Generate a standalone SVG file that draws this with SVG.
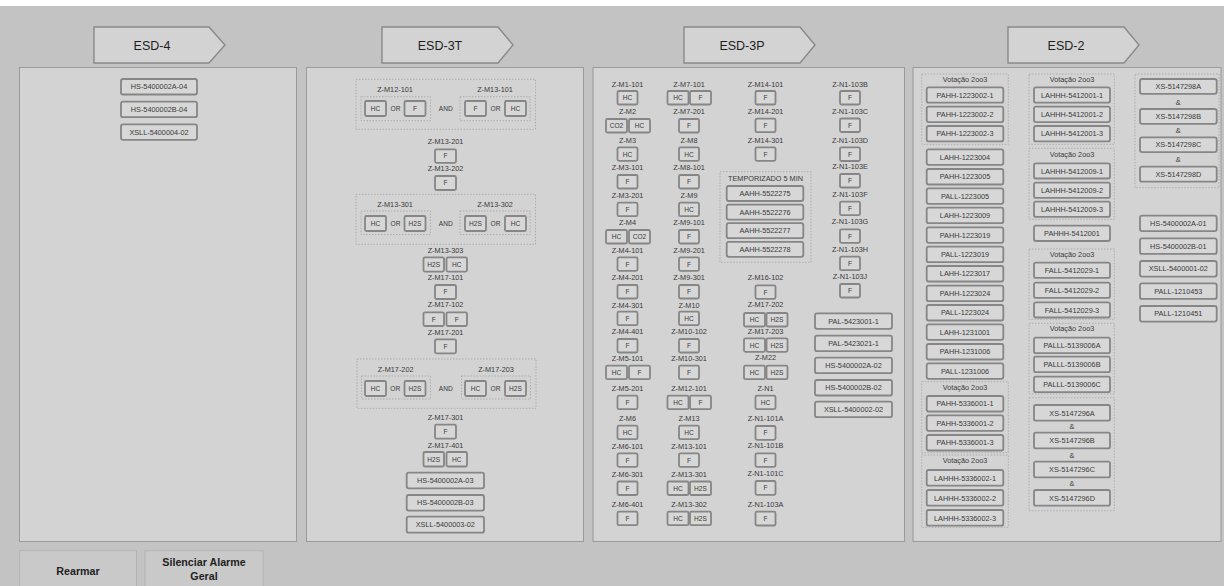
<svg xmlns="http://www.w3.org/2000/svg" width="1224" height="586" viewBox="0 0 1224 586">
<style>
.bg{fill:#c3c3c3}
.pnl{fill:#d3d3d3;stroke:#9a9a9a;stroke-width:1}
.hdr{fill:#d3d3d3;stroke:#8a8a8a;stroke-width:1.4}
.ht{font-family:"Liberation Sans",Arial,sans-serif;font-size:12.5px;fill:#1e1e1e;text-anchor:middle}
.b{fill:#d7d7d7;stroke:#868686;stroke-width:1.8}
.t{font-family:"Liberation Sans",Arial,sans-serif;font-size:7.3px;fill:#3a3a3a;text-anchor:middle}
.s{font-family:"Liberation Sans",Arial,sans-serif;font-size:6.6px;fill:#3a3a3a;text-anchor:middle}
.d{fill:none;stroke:#a4a4a4;stroke-width:0.8;stroke-dasharray:1.5 1.5}
.btn{fill:#c9c9c9;stroke:#b4b4b4;stroke-width:1}
.bt{font-family:"Liberation Sans",Arial,sans-serif;font-size:10.7px;font-weight:bold;fill:#222;text-anchor:middle}
</style>
<rect class="bg" x="0" y="0" width="1224" height="586"/>
<rect x="0" y="0" width="1224" height="6" fill="#ffffff"/>

<!-- headers -->
<g id="hdr-esd4"><polygon class="hdr" points="94,27 209,27 225,45 209,63 94,63"/><text class="ht" x="152" y="49.5">ESD-4</text></g>
<g id="hdr-esd3t"><polygon class="hdr" points="382,27 498,27 513,45 498,63 382,63"/><text class="ht" x="440" y="49.5">ESD-3T</text></g>
<g id="hdr-esd3p"><polygon class="hdr" points="684,27 800,27 815,45 800,63 684,63"/><text class="ht" x="742" y="49.5">ESD-3P</text></g>
<g id="hdr-esd2"><polygon class="hdr" points="1008,27 1124,27 1139,45 1124,63 1008,63"/><text class="ht" x="1066" y="49.5">ESD-2</text></g>

<!-- panels -->
<rect class="pnl" x="19.5" y="67.5" width="277" height="474"/>
<rect class="pnl" x="306.5" y="67.5" width="277" height="474"/>
<rect class="pnl" x="593" y="67.5" width="311.5" height="474"/>
<rect class="pnl" x="913" y="67.5" width="308" height="474"/>

<g id="connectors"></g>

<!-- ESD-4 -->
<g id="esd4-hs-a"><rect class="b" x="121" y="79" width="76" height="15.5" rx="2"/><text class="t" x="159" y="89.4">HS-5400002A-04</text></g>
<g id="esd4-hs-b"><rect class="b" x="121" y="101.7" width="76" height="15.5" rx="2"/><text class="t" x="159" y="112.1">HS-5400002B-04</text></g>
<g id="esd4-xsll"><rect class="b" x="121" y="124.3" width="76" height="15.5" rx="2"/><text class="t" x="159" y="134.7">XSLL-5400004-02</text></g>

<!-- ESD-3T -->
<g id="t-g1">
<rect class="d" x="356" y="79.3" width="179.5" height="50"/>
<text class="t" x="395" y="91.9">Z-M12-101</text><text class="t" x="495" y="91.9">Z-M13-101</text>
<rect class="d" x="361" y="96.7" width="69.5" height="24"/>
<rect class="b" x="365" y="101" width="21" height="15" rx="1.5"/><text class="s" x="375.5" y="110.9">HC</text>
<text class="s" x="395.5" y="110.9">OR</text>
<rect class="b" x="404.5" y="101" width="21" height="15" rx="1.5"/><text class="s" x="415" y="110.9">F</text>
<text class="s" x="445.7" y="110.9">AND</text>
<rect class="d" x="460" y="96.7" width="70" height="24"/>
<rect class="b" x="465" y="101" width="21" height="15" rx="1.5"/><text class="s" x="475.5" y="110.9">F</text>
<text class="s" x="495.5" y="110.9">OR</text>
<rect class="b" x="505" y="101" width="21" height="15" rx="1.5"/><text class="s" x="515.5" y="110.9">HC</text>
</g>
<g id="t-zm13-201"><text class="t" x="445.5" y="143.6">Z-M13-201</text><rect class="b" x="435" y="149.3" width="21" height="13.5" rx="1.5"/><text class="s" x="445.5" y="158.4">F</text></g>
<g id="t-zm13-202"><text class="t" x="445.5" y="170.9">Z-M13-202</text><rect class="b" x="435" y="176" width="21" height="14" rx="1.5"/><text class="s" x="445.5" y="185.3">F</text></g>
<g id="t-g2">
<rect class="d" x="356" y="194.3" width="179.5" height="50"/>
<text class="t" x="395" y="206.9">Z-M13-301</text><text class="t" x="495" y="206.9">Z-M13-302</text>
<rect class="d" x="361" y="211" width="69.5" height="23.5"/>
<rect class="b" x="365" y="216" width="21" height="15" rx="1.5"/><text class="s" x="375.5" y="225.9">HC</text>
<text class="s" x="395.5" y="225.9">OR</text>
<rect class="b" x="404.5" y="216" width="21" height="15" rx="1.5"/><text class="s" x="415" y="225.9">H2S</text>
<text class="s" x="445.7" y="225.9">AND</text>
<rect class="d" x="460" y="211" width="70" height="23.5"/>
<rect class="b" x="465" y="216" width="21" height="15" rx="1.5"/><text class="s" x="475.5" y="225.9">H2S</text>
<text class="s" x="495.5" y="225.9">OR</text>
<rect class="b" x="505" y="216" width="21" height="15" rx="1.5"/><text class="s" x="515.5" y="225.9">HC</text>
</g>
<g id="t-zm13-303"><text class="t" x="445.5" y="252.6">Z-M13-303</text><rect class="b" x="423.5" y="257.3" width="20.5" height="14.3" rx="1.5"/><text class="s" x="433.7" y="266.8">H2S</text><rect class="b" x="446.5" y="257.3" width="20.5" height="14.3" rx="1.5"/><text class="s" x="456.7" y="266.8">HC</text></g>
<g id="t-zm17-101"><text class="t" x="445.5" y="280.3">Z-M17-101</text><rect class="b" x="435" y="285" width="21" height="14" rx="1.5"/><text class="s" x="445.5" y="294.4">F</text></g>
<g id="t-zm17-102"><text class="t" x="445.5" y="306.9">Z-M17-102</text><rect class="b" x="423.5" y="312.3" width="20.5" height="13.7" rx="1.5"/><text class="s" x="433.7" y="321.6">F</text><rect class="b" x="446.5" y="312.3" width="20.5" height="13.7" rx="1.5"/><text class="s" x="456.7" y="321.6">F</text></g>
<g id="t-zm17-201"><text class="t" x="445.5" y="334.9">Z-M17-201</text><rect class="b" x="435" y="339.3" width="21" height="14" rx="1.5"/><text class="s" x="445.5" y="348.7">F</text></g>
<g id="t-g3">
<rect class="d" x="357" y="359" width="179" height="49.3"/>
<text class="t" x="395.7" y="371.9">Z-M17-202</text><text class="t" x="496" y="371.9">Z-M17-203</text>
<rect class="d" x="361.5" y="376" width="69" height="23"/>
<rect class="b" x="365" y="381" width="21" height="15" rx="1.5"/><text class="s" x="375.5" y="390.9">HC</text>
<text class="s" x="395.3" y="390.9">OR</text>
<rect class="b" x="404.5" y="381" width="21" height="15" rx="1.5"/><text class="s" x="415" y="390.9">H2S</text>
<text class="s" x="445.7" y="390.9">AND</text>
<rect class="d" x="461.5" y="376" width="69" height="23"/>
<rect class="b" x="465" y="381" width="21" height="15" rx="1.5"/><text class="s" x="475.5" y="390.9">HC</text>
<text class="s" x="495.5" y="390.9">OR</text>
<rect class="b" x="505" y="381" width="21" height="15" rx="1.5"/><text class="s" x="515.5" y="390.9">H2S</text>
</g>
<g id="t-zm17-301"><text class="t" x="445.5" y="419.9">Z-M17-301</text><rect class="b" x="435" y="424.7" width="21" height="14" rx="1.5"/><text class="s" x="445.5" y="434.1">F</text></g>
<g id="t-zm17-401"><text class="t" x="445.5" y="447.6">Z-M17-401</text><rect class="b" x="423.5" y="452" width="20.5" height="14.5" rx="1.5"/><text class="s" x="433.7" y="461.6">H2S</text><rect class="b" x="446.5" y="452" width="20.5" height="14.5" rx="1.5"/><text class="s" x="456.7" y="461.6">HC</text></g>
<g id="t-hs-a"><rect class="b" x="406.7" y="472.7" width="77.3" height="15.6" rx="2"/><text class="t" x="445.3" y="483.1">HS-5400002A-03</text></g>
<g id="t-hs-b"><rect class="b" x="406.7" y="495" width="77.3" height="15.6" rx="2"/><text class="t" x="445.3" y="505.4">HS-5400002B-03</text></g>
<g id="t-xsll"><rect class="b" x="406.7" y="516.7" width="77.3" height="16" rx="2"/><text class="t" x="445.3" y="527.3">XSLL-5400003-02</text></g>

<!-- ESD-3P column 1 -->
<g id="p-zm1-101"><text class="t" x="627.5" y="86.6">Z-M1-101</text><rect class="b" x="617.5" y="91" width="20" height="13.5" rx="1.5"/><text class="s" x="627.5" y="100.3">HC</text></g>
<g id="p-zm2"><text class="t" x="627.5" y="114.3">Z-M2</text><rect class="b" x="606" y="119" width="21" height="13.5" rx="1.5"/><text class="s" x="616.5" y="128.3">CO2</text><rect class="b" x="629" y="119" width="21" height="13.5" rx="1.5"/><text class="s" x="639.5" y="128.3">HC</text></g>
<g id="p-zm3"><text class="t" x="627.5" y="142.6">Z-M3</text><rect class="b" x="617.5" y="147.3" width="20" height="13.5" rx="1.5"/><text class="s" x="627.5" y="156.6">HC</text></g>
<g id="p-zm3-101"><text class="t" x="627.5" y="169.9">Z-M3-101</text><rect class="b" x="617.5" y="175" width="20" height="13.5" rx="1.5"/><text class="s" x="627.5" y="184.3">F</text></g>
<g id="p-zm3-201"><text class="t" x="627.5" y="197.6">Z-M3-201</text><rect class="b" x="617.5" y="202.7" width="20" height="13.5" rx="1.5"/><text class="s" x="627.5" y="212">F</text></g>
<g id="p-zm4"><text class="t" x="627.5" y="225.3">Z-M4</text><rect class="b" x="606" y="230" width="21" height="13.5" rx="1.5"/><text class="s" x="616.5" y="239.3">HC</text><rect class="b" x="629" y="230" width="21" height="13.5" rx="1.5"/><text class="s" x="639.5" y="239.3">CO2</text></g>
<g id="p-zm4-101"><text class="t" x="627.5" y="252.6">Z-M4-101</text><rect class="b" x="617.5" y="257.3" width="20" height="13.5" rx="1.5"/><text class="s" x="627.5" y="266.6">F</text></g>
<g id="p-zm4-201"><text class="t" x="627.5" y="279.9">Z-M4-201</text><rect class="b" x="617.5" y="285" width="20" height="13.5" rx="1.5"/><text class="s" x="627.5" y="294.3">F</text></g>
<g id="p-zm4-301"><text class="t" x="627.5" y="307.6">Z-M4-301</text><rect class="b" x="617.5" y="311.7" width="20" height="13.5" rx="1.5"/><text class="s" x="627.5" y="321">F</text></g>
<g id="p-zm4-401"><text class="t" x="627.5" y="334.3">Z-M4-401</text><rect class="b" x="617.5" y="339" width="20" height="13.5" rx="1.5"/><text class="s" x="627.5" y="348.3">F</text></g>
<g id="p-zm5-101"><text class="t" x="627.5" y="360.9">Z-M5-101</text><rect class="b" x="606" y="365.7" width="21" height="13.5" rx="1.5"/><text class="s" x="616.5" y="375">HC</text><rect class="b" x="629" y="365.7" width="21" height="13.5" rx="1.5"/><text class="s" x="639.5" y="375">F</text></g>
<g id="p-zm5-201"><text class="t" x="627.5" y="390.9">Z-M5-201</text><rect class="b" x="617.5" y="395.7" width="20" height="13.5" rx="1.5"/><text class="s" x="627.5" y="405">F</text></g>
<g id="p-zm6"><text class="t" x="627.5" y="420.9">Z-M6</text><rect class="b" x="617.5" y="425.7" width="20" height="13.5" rx="1.5"/><text class="s" x="627.5" y="435">HC</text></g>
<g id="p-zm6-101"><text class="t" x="627.5" y="448.6">Z-M6-101</text><rect class="b" x="617.5" y="453.3" width="20" height="13.5" rx="1.5"/><text class="s" x="627.5" y="462.6">F</text></g>
<g id="p-zm6-301"><text class="t" x="627.5" y="476.6">Z-M6-301</text><rect class="b" x="617.5" y="481.5" width="20" height="13.5" rx="1.5"/><text class="s" x="627.5" y="490.8">F</text></g>
<g id="p-zm6-401"><text class="t" x="627.5" y="506.6">Z-M6-401</text><rect class="b" x="617.5" y="511.7" width="20" height="13.5" rx="1.5"/><text class="s" x="627.5" y="521">F</text></g>

<!-- ESD-3P column 2 -->
<g id="p-zm7-101"><text class="t" x="689" y="86.6">Z-M7-101</text><rect class="b" x="667.5" y="91" width="21" height="13.5" rx="1.5"/><text class="s" x="678" y="100.3">HC</text><rect class="b" x="690" y="91" width="21" height="13.5" rx="1.5"/><text class="s" x="700.5" y="100.3">F</text></g>
<g id="p-zm7-201"><text class="t" x="689" y="114.3">Z-M7-201</text><rect class="b" x="679" y="119" width="20" height="13.5" rx="1.5"/><text class="s" x="689" y="128.3">F</text></g>
<g id="p-zm8"><text class="t" x="689" y="142.6">Z-M8</text><rect class="b" x="679" y="147.3" width="20" height="13.5" rx="1.5"/><text class="s" x="689" y="156.6">HC</text></g>
<g id="p-zm8-101"><text class="t" x="689" y="169.9">Z-M8-101</text><rect class="b" x="679" y="175" width="20" height="13.5" rx="1.5"/><text class="s" x="689" y="184.3">F</text></g>
<g id="p-zm9"><text class="t" x="689" y="197.6">Z-M9</text><rect class="b" x="679" y="202.7" width="20" height="13.5" rx="1.5"/><text class="s" x="689" y="212">HC</text></g>
<g id="p-zm9-101"><text class="t" x="689" y="225.3">Z-M9-101</text><rect class="b" x="679" y="230" width="20" height="13.5" rx="1.5"/><text class="s" x="689" y="239.3">F</text></g>
<g id="p-zm9-201"><text class="t" x="689" y="252.6">Z-M9-201</text><rect class="b" x="679" y="257.3" width="20" height="13.5" rx="1.5"/><text class="s" x="689" y="266.6">F</text></g>
<g id="p-zm9-301"><text class="t" x="689" y="279.9">Z-M9-301</text><rect class="b" x="679" y="285" width="20" height="13.5" rx="1.5"/><text class="s" x="689" y="294.3">F</text></g>
<g id="p-zm10"><text class="t" x="689" y="307.6">Z-M10</text><rect class="b" x="679" y="311.7" width="20" height="13.5" rx="1.5"/><text class="s" x="689" y="321">HC</text></g>
<g id="p-zm10-102"><text class="t" x="689" y="334.3">Z-M10-102</text><rect class="b" x="679" y="339" width="20" height="13.5" rx="1.5"/><text class="s" x="689" y="348.3">F</text></g>
<g id="p-zm10-301"><text class="t" x="689" y="360.9">Z-M10-301</text><rect class="b" x="679" y="365.7" width="20" height="13.5" rx="1.5"/><text class="s" x="689" y="375">F</text></g>
<g id="p-zm12-101"><text class="t" x="689" y="390.9">Z-M12-101</text><rect class="b" x="667.5" y="395.7" width="21" height="13.5" rx="1.5"/><text class="s" x="678" y="405">HC</text><rect class="b" x="690" y="395.7" width="21" height="13.5" rx="1.5"/><text class="s" x="700.5" y="405">F</text></g>
<g id="p-zm13"><text class="t" x="689" y="420.9">Z-M13</text><rect class="b" x="679" y="425.7" width="20" height="13.5" rx="1.5"/><text class="s" x="689" y="435">HC</text></g>
<g id="p-zm13-101"><text class="t" x="689" y="448.6">Z-M13-101</text><rect class="b" x="679" y="453.3" width="20" height="13.5" rx="1.5"/><text class="s" x="689" y="462.6">F</text></g>
<g id="p-zm13-301"><text class="t" x="689" y="476.6">Z-M13-301</text><rect class="b" x="667.5" y="481.5" width="21" height="13.5" rx="1.5"/><text class="s" x="678" y="490.8">HC</text><rect class="b" x="690" y="481.5" width="21" height="13.5" rx="1.5"/><text class="s" x="700.5" y="490.8">H2S</text></g>
<g id="p-zm13-302"><text class="t" x="689" y="506.6">Z-M13-302</text><rect class="b" x="667.5" y="511.7" width="21" height="13.5" rx="1.5"/><text class="s" x="678" y="521">HC</text><rect class="b" x="690" y="511.7" width="21" height="13.5" rx="1.5"/><text class="s" x="700.5" y="521">H2S</text></g>

<!-- ESD-3P column 3 -->
<g id="p-zm14-101"><text class="t" x="765.5" y="86.6">Z-M14-101</text><rect class="b" x="755.5" y="91" width="20" height="13.5" rx="1.5"/><text class="s" x="765.5" y="100.3">F</text></g>
<g id="p-zm14-201"><text class="t" x="765.5" y="114.3">Z-M14-201</text><rect class="b" x="755.5" y="118.7" width="20" height="13.5" rx="1.5"/><text class="s" x="765.5" y="128">F</text></g>
<g id="p-zm14-301"><text class="t" x="765.5" y="142.6">Z-M14-301</text><rect class="b" x="755.5" y="147.3" width="20" height="13.5" rx="1.5"/><text class="s" x="765.5" y="156.6">F</text></g>
<g id="p-temp">
<rect class="d" x="720" y="171.7" width="91" height="90.6"/>
<text class="t" x="765.5" y="180.9">TEMPORIZADO 5 MIN</text>
<rect class="b" x="726.7" y="186" width="76.6" height="15" rx="2"/><text class="t" x="765" y="196.1">AAHH-5522275</text>
<rect class="b" x="726.7" y="204.6" width="76.6" height="15" rx="2"/><text class="t" x="765" y="214.7">AAHH-5522276</text>
<rect class="b" x="726.7" y="223.2" width="76.6" height="15" rx="2"/><text class="t" x="765" y="233.3">AAHH-5522277</text>
<rect class="b" x="726.7" y="241.8" width="76.6" height="15" rx="2"/><text class="t" x="765" y="251.9">AAHH-5522278</text>
</g>
<g id="p-zm16-102"><text class="t" x="765.5" y="279.9">Z-M16-102</text><rect class="b" x="755.5" y="285.3" width="20" height="13.5" rx="1.5"/><text class="s" x="765.5" y="294.6">F</text></g>
<g id="p-zm17-202"><text class="t" x="765.5" y="306.9">Z-M17-202</text><rect class="b" x="744" y="313" width="21" height="13.5" rx="1.5"/><text class="s" x="754.5" y="322.3">HC</text><rect class="b" x="766.5" y="313" width="21" height="13.5" rx="1.5"/><text class="s" x="777" y="322.3">H2S</text></g>
<g id="p-zm17-203"><text class="t" x="765.5" y="333.6">Z-M17-203</text><rect class="b" x="744" y="338.3" width="21" height="13.5" rx="1.5"/><text class="s" x="754.5" y="347.6">HC</text><rect class="b" x="766.5" y="338.3" width="21" height="13.5" rx="1.5"/><text class="s" x="777" y="347.6">H2S</text></g>
<g id="p-zm22"><text class="t" x="765.5" y="360.3">Z-M22</text><rect class="b" x="744" y="365.7" width="21" height="13.5" rx="1.5"/><text class="s" x="754.5" y="375">HC</text><rect class="b" x="766.5" y="365.7" width="21" height="13.5" rx="1.5"/><text class="s" x="777" y="375">H2S</text></g>
<g id="p-zn1"><text class="t" x="765.5" y="390.9">Z-N1</text><rect class="b" x="755.5" y="395.7" width="20" height="13.5" rx="1.5"/><text class="s" x="765.5" y="405">HC</text></g>
<g id="p-zn1-101a"><text class="t" x="765.5" y="420.9">Z-N1-101A</text><rect class="b" x="755.5" y="426" width="20" height="13.8" rx="1.5"/><text class="s" x="765.5" y="435.4">F</text></g>
<g id="p-zn1-101b"><text class="t" x="765.5" y="448.3">Z-N1-101B</text><rect class="b" x="755.5" y="453.3" width="20" height="13.5" rx="1.5"/><text class="s" x="765.5" y="462.6">F</text></g>
<g id="p-zn1-101c"><text class="t" x="765.5" y="475.9">Z-N1-101C</text><rect class="b" x="755.5" y="481" width="20" height="13.8" rx="1.5"/><text class="s" x="765.5" y="490.4">F</text></g>
<g id="p-zn1-103a"><text class="t" x="765.5" y="506.6">Z-N1-103A</text><rect class="b" x="755.5" y="511.7" width="20" height="13.8" rx="1.5"/><text class="s" x="765.5" y="521.1">F</text></g>

<!-- ESD-3P column 4 -->
<g id="p-zn1-103b"><text class="t" x="850" y="86.6">Z-N1-103B</text><rect class="b" x="840" y="91" width="20" height="13.5" rx="1.5"/><text class="s" x="850" y="100.3">F</text></g>
<g id="p-zn1-103c"><text class="t" x="850" y="114.3">Z-N1-103C</text><rect class="b" x="840" y="118.5" width="20" height="13.5" rx="1.5"/><text class="s" x="850" y="127.8">F</text></g>
<g id="p-zn1-103d"><text class="t" x="850" y="142.6">Z-N1-103D</text><rect class="b" x="840" y="147.3" width="20" height="13.7" rx="1.5"/><text class="s" x="850" y="156.7">F</text></g>
<g id="p-zn1-103e"><text class="t" x="850" y="169.3">Z-N1-103E</text><rect class="b" x="840" y="174" width="20" height="13.5" rx="1.5"/><text class="s" x="850" y="183.3">F</text></g>
<g id="p-zn1-103f"><text class="t" x="850" y="196.9">Z-N1-103F</text><rect class="b" x="840" y="201.7" width="20" height="13.5" rx="1.5"/><text class="s" x="850" y="211">F</text></g>
<g id="p-zn1-103g"><text class="t" x="850" y="224.3">Z-N1-103G</text><rect class="b" x="840" y="229.3" width="20" height="13.5" rx="1.5"/><text class="s" x="850" y="238.6">F</text></g>
<g id="p-zn1-103h"><text class="t" x="850" y="251.6">Z-N1-103H</text><rect class="b" x="840" y="256.7" width="20" height="13.5" rx="1.5"/><text class="s" x="850" y="266">F</text></g>
<g id="p-zn1-103j"><text class="t" x="850" y="279.3">Z-N1-103J</text><rect class="b" x="840" y="284" width="20" height="13.5" rx="1.5"/><text class="s" x="850" y="293.3">F</text></g>
<g id="p-pal-5423001"><rect class="b" x="815" y="313.3" width="77" height="15.5" rx="2"/><text class="t" x="853.5" y="323.6">PAL-5423001-1</text></g>
<g id="p-pal-5423021"><rect class="b" x="815" y="335.7" width="77" height="15.5" rx="2"/><text class="t" x="853.5" y="346">PAL-5423021-1</text></g>
<g id="p-hs-a"><rect class="b" x="815" y="357.7" width="77" height="15.5" rx="2"/><text class="t" x="853.5" y="368">HS-5400002A-02</text></g>
<g id="p-hs-b"><rect class="b" x="815" y="380" width="77" height="15.5" rx="2"/><text class="t" x="853.5" y="390.3">HS-5400002B-02</text></g>
<g id="p-xsll"><rect class="b" x="815" y="401.7" width="77" height="15.5" rx="2"/><text class="t" x="853.5" y="412">XSLL-5400002-02</text></g>

<!-- ESD-2 column A -->
<g id="e2-v1">
<rect class="d" x="921.7" y="74" width="86.6" height="70.3"/>
<text class="t" x="965" y="81.9">Votação 2oo3</text>
<rect class="b" x="926.7" y="87.3" width="76.6" height="15.4" rx="2"/><text class="t" x="965" y="97.6">PAHH-1223002-1</text>
<rect class="b" x="926.7" y="106.7" width="76.6" height="15.4" rx="2"/><text class="t" x="965" y="117">PAHH-1223002-2</text>
<rect class="b" x="926.7" y="126" width="76.6" height="15.4" rx="2"/><text class="t" x="965" y="136.3">PAHH-1223002-3</text>
</g>
<g id="e2-lahh-1223004"><rect class="b" x="926.7" y="149.3" width="76.6" height="15.5" rx="2"/><text class="t" x="965" y="159.7">LAHH-1223004</text></g>
<g id="e2-pahh-1223005"><rect class="b" x="926.7" y="169" width="76.6" height="15.5" rx="2"/><text class="t" x="965" y="179.4">PAHH-1223005</text></g>
<g id="e2-pall-1223005"><rect class="b" x="926.7" y="188.3" width="76.6" height="15.5" rx="2"/><text class="t" x="965" y="198.7">PALL-1223005</text></g>
<g id="e2-lahh-1223009"><rect class="b" x="926.7" y="207.7" width="76.6" height="15.5" rx="2"/><text class="t" x="965" y="218.1">LAHH-1223009</text></g>
<g id="e2-pahh-1223019"><rect class="b" x="926.7" y="227.3" width="76.6" height="15.5" rx="2"/><text class="t" x="965" y="237.7">PAHH-1223019</text></g>
<g id="e2-pall-1223019"><rect class="b" x="926.7" y="246.7" width="76.6" height="15.5" rx="2"/><text class="t" x="965" y="257.1">PALL-1223019</text></g>
<g id="e2-lahh-1223017"><rect class="b" x="926.7" y="266" width="76.6" height="15.5" rx="2"/><text class="t" x="965" y="276.4">LAHH-1223017</text></g>
<g id="e2-pahh-1223024"><rect class="b" x="926.7" y="285.7" width="76.6" height="15.5" rx="2"/><text class="t" x="965" y="296.1">PAHH-1223024</text></g>
<g id="e2-pall-1223024"><rect class="b" x="926.7" y="305" width="76.6" height="15.5" rx="2"/><text class="t" x="965" y="315.4">PALL-1223024</text></g>
<g id="e2-lahh-1231001"><rect class="b" x="926.7" y="324.3" width="76.6" height="15.5" rx="2"/><text class="t" x="965" y="334.7">LAHH-1231001</text></g>
<g id="e2-pahh-1231006"><rect class="b" x="926.7" y="344" width="76.6" height="15.5" rx="2"/><text class="t" x="965" y="354.4">PAHH-1231006</text></g>
<g id="e2-pall-1231006"><rect class="b" x="926.7" y="363.3" width="76.6" height="15.5" rx="2"/><text class="t" x="965" y="373.7">PALL-1231006</text></g>
<g id="e2-v2">
<rect class="d" x="921.7" y="381.7" width="86.6" height="71"/>
<text class="t" x="965" y="390.3">Votação 2oo3</text>
<rect class="b" x="926.7" y="396" width="76.6" height="15.5" rx="2"/><text class="t" x="965" y="406.4">PAHH-5336001-1</text>
<rect class="b" x="926.7" y="415.3" width="76.6" height="15.5" rx="2"/><text class="t" x="965" y="425.7">PAHH-5336001-2</text>
<rect class="b" x="926.7" y="435" width="76.6" height="15.5" rx="2"/><text class="t" x="965" y="445.4">PAHH-5336001-3</text>
</g>
<g id="e2-v3">
<rect class="d" x="921.7" y="455" width="86.6" height="72.3"/>
<text class="t" x="965" y="462.6">Votação 2oo3</text>
<rect class="b" x="926.7" y="470" width="76.6" height="15.7" rx="2"/><text class="t" x="965" y="480.5">LAHHH-5336002-1</text>
<rect class="b" x="926.7" y="490" width="76.6" height="15.7" rx="2"/><text class="t" x="965" y="500.5">LAHHH-5336002-2</text>
<rect class="b" x="926.7" y="510" width="76.6" height="15.7" rx="2"/><text class="t" x="965" y="520.5">LAHHH-5336002-3</text>
</g>

<!-- ESD-2 column B -->
<g id="e2-v4">
<rect class="d" x="1029" y="74" width="85.3" height="70.3"/>
<text class="t" x="1072" y="81.9">Votação 2oo3</text>
<rect class="b" x="1034" y="87.3" width="76" height="15.4" rx="2"/><text class="t" x="1072" y="97.6">LAHHH-5412001-1</text>
<rect class="b" x="1034" y="106.7" width="76" height="15.4" rx="2"/><text class="t" x="1072" y="117">LAHHH-5412001-2</text>
<rect class="b" x="1034" y="126" width="76" height="15.4" rx="2"/><text class="t" x="1072" y="136.3">LAHHH-5412001-3</text>
</g>
<g id="e2-v5">
<rect class="d" x="1029" y="148.3" width="85.3" height="71"/>
<text class="t" x="1072" y="156.9">Votação 2oo3</text>
<rect class="b" x="1034" y="163.3" width="76" height="15.2" rx="2"/><text class="t" x="1072" y="173.5">LAHHH-5412009-1</text>
<rect class="b" x="1034" y="182.7" width="76" height="15.2" rx="2"/><text class="t" x="1072" y="192.9">LAHHH-5412009-2</text>
<rect class="b" x="1034" y="201.7" width="76" height="15.2" rx="2"/><text class="t" x="1072" y="211.9">LAHHH-5412009-3</text>
</g>
<g id="e2-pahhh-5412001"><rect class="b" x="1034" y="225.7" width="76" height="15.3" rx="2"/><text class="t" x="1072" y="236">PAHHH-5412001</text></g>
<g id="e2-v6">
<rect class="d" x="1029" y="249" width="85.3" height="70.3"/>
<text class="t" x="1072" y="256.9">Votação 2oo3</text>
<rect class="b" x="1034" y="262.7" width="76" height="15.2" rx="2"/><text class="t" x="1072" y="272.9">FALL-5412029-1</text>
<rect class="b" x="1034" y="282.7" width="76" height="15.2" rx="2"/><text class="t" x="1072" y="292.9">FALL-5412029-2</text>
<rect class="b" x="1034" y="302.3" width="76" height="15.2" rx="2"/><text class="t" x="1072" y="312.5">FALL-5412029-3</text>
</g>
<g id="e2-v7">
<rect class="d" x="1029" y="323.3" width="85.3" height="70.7"/>
<text class="t" x="1072" y="330.9">Votação 2oo3</text>
<rect class="b" x="1034" y="337.7" width="76" height="15.5" rx="2"/><text class="t" x="1072" y="348.1">PALLL-5139006A</text>
<rect class="b" x="1034" y="356.7" width="76" height="15.5" rx="2"/><text class="t" x="1072" y="367.1">PALLL-5139006B</text>
<rect class="b" x="1034" y="376.7" width="76" height="15.5" rx="2"/><text class="t" x="1072" y="387.1">PALLL-5139006C</text>
</g>
<g id="e2-xs296">
<rect class="d" x="1029" y="397.7" width="85.3" height="113"/>
<rect class="b" x="1034" y="405" width="76" height="15.7" rx="2"/><text class="t" x="1072" y="415.5">XS-5147296A</text>
<text class="t" x="1072" y="429.3">&amp;</text>
<rect class="b" x="1034" y="432.7" width="76" height="15.7" rx="2"/><text class="t" x="1072" y="443.2">XS-5147296B</text>
<text class="t" x="1072" y="457.6">&amp;</text>
<rect class="b" x="1034" y="461.7" width="76" height="15.7" rx="2"/><text class="t" x="1072" y="472.2">XS-5147296C</text>
<text class="t" x="1072" y="486.3">&amp;</text>
<rect class="b" x="1034" y="490" width="76" height="15.7" rx="2"/><text class="t" x="1072" y="500.5">XS-5147296D</text>
</g>

<!-- ESD-2 column C -->
<g id="e2-xs298">
<rect class="d" x="1135" y="74" width="84" height="113.7"/>
<rect class="b" x="1140" y="79" width="76.7" height="14.8" rx="2"/><text class="t" x="1178.3" y="89">XS-5147298A</text>
<text class="t" x="1178.3" y="104.9">&amp;</text>
<rect class="b" x="1140" y="109" width="76.7" height="14.8" rx="2"/><text class="t" x="1178.3" y="119">XS-5147298B</text>
<text class="t" x="1178.3" y="132.6">&amp;</text>
<rect class="b" x="1140" y="137.3" width="76.7" height="14.8" rx="2"/><text class="t" x="1178.3" y="147.3">XS-5147298C</text>
<text class="t" x="1178.3" y="161.6">&amp;</text>
<rect class="b" x="1140" y="166.7" width="76.7" height="15" rx="2"/><text class="t" x="1178.3" y="176.8">XS-5147298D</text>
</g>
<g id="e2-hs-a"><rect class="b" x="1140" y="215.7" width="76.7" height="15.4" rx="2"/><text class="t" x="1178.3" y="226">HS-5400002A-01</text></g>
<g id="e2-hs-b"><rect class="b" x="1140" y="238.3" width="76.7" height="15.6" rx="2"/><text class="t" x="1178.3" y="248.7">HS-5400002B-01</text></g>
<g id="e2-xsll"><rect class="b" x="1140" y="261" width="76.7" height="15.6" rx="2"/><text class="t" x="1178.3" y="271.4">XSLL-5400001-02</text></g>
<g id="e2-pall-1210453"><rect class="b" x="1140" y="283.3" width="76.7" height="15.6" rx="2"/><text class="t" x="1178.3" y="293.7">PALL-1210453</text></g>
<g id="e2-pall-1210451"><rect class="b" x="1140" y="306" width="76.7" height="15.6" rx="2"/><text class="t" x="1178.3" y="316.4">PALL-1210451</text></g>

<!-- buttons -->
<g id="btn-rearmar"><rect class="btn" x="19.5" y="550.7" width="117" height="40"/><text class="bt" x="78" y="574.5">Rearmar</text></g>
<g id="btn-silenciar"><rect class="btn" x="145" y="550.7" width="118" height="40"/><text class="bt" x="204" y="565.5">Silenciar Alarme</text><text class="bt" x="204" y="580.3">Geral</text></g>
</svg>
